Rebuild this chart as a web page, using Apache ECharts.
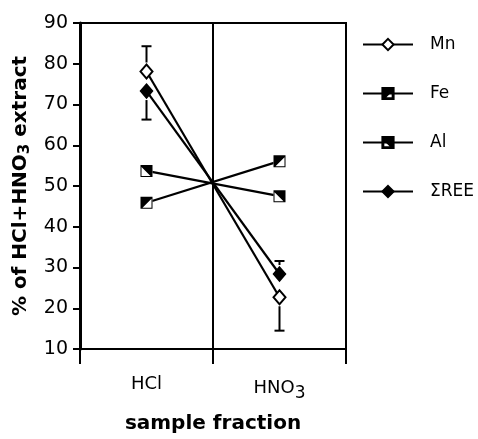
<!DOCTYPE html>
<html>
<head>
<meta charset="utf-8">
<style>
  html, body { margin: 0; padding: 0; background: #fff; }
  #chart { width: 478px; height: 439px; }
</style>
<script src="https://cdn.jsdelivr.net/npm/echarts@6/dist/echarts.min.js"></script>
</head>
<body>
<div id="chart"></div>
<script>
// data
var categories = ['HCl', 'HNO3'];
var mn = [78.1, 22.7];
var fe = [45.9, 56.1];
var al = [53.7, 47.5];
var ree = [73.3, 28.4];
// error bars: where they start (marker value) and where the cap sits
var errCats = ['HCl', 'HCl', 'HNO3', 'HNO3'];
var errBase = [78.1, 73.3, 28.4, 22.7];
var errEnd = [84.3, 66.3, 31.6, 14.5];
var yTicks = [10, 90, 10]; // min, max, interval

(function () {
    var myChart = echarts.init(document.getElementById('chart'));
    var font = 'DejaVu Sans';

    // half filled squares (frame + black triangle, the other half is a hole)
    var feSymbol = 'path://M0,0L12,0L12,12L0,12Z M11,2L2,11L11,11Z';
    var alSymbol = 'path://M0,0L12,0L12,12L0,12Z M1,2L1,11L10,11Z';

    function sub(v) {
        return v.replace(/(\d)/g, '{s|$1}').replace(/^([^{]+)/, '{n|$1}');
    }

    var errData = errCats.map(function (c, i) { return [c, errBase[i], errEnd[i]]; });

    function lineSeries(name, data, symbol, show) {
        return {
            name: name,
            type: 'line',
            data: data,
            symbol: symbol,
            showSymbol: show,
            symbolSize: symbol === 'emptyDiamond' || symbol === 'diamond' ? [12, 14] : 12,
            color: '#000',
            lineStyle: { color: '#000', width: 2.2 },
            itemStyle: { color: '#000', borderColor: '#000', borderWidth: 1.5 },
            z: 3,
            animation: false
        };
    }
    function whiteBox(data) {
        return {
            type: 'scatter', data: data, symbol: 'rect', symbolSize: 12,
            itemStyle: { color: '#fff', opacity: 1 }, z: 4, silent: true, animation: false
        };
    }
    function halfBox(data, symbol) {
        return {
            type: 'scatter', data: data, symbol: symbol, symbolSize: 12,
            itemStyle: { color: '#000', opacity: 1 }, z: 5, silent: true, animation: false
        };
    }

    var option = {
        backgroundColor: '#fff',
        textStyle: { fontFamily: font, color: '#000' },
        grid: {
            left: 80, right: 132, top: 23, bottom: 89,
            show: true, borderColor: '#000', borderWidth: 2
        },
        legend: {
            orient: 'vertical',
            left: 357,
            top: 31,
            itemWidth: 50,
            itemHeight: 14,
            itemGap: 32,
            data: ['Mn', 'Fe', 'Al', 'ΣREE'],
            lineStyle: { width: 2 },
            textStyle: { fontFamily: font, fontSize: 17, color: '#000', lineHeight: 17, padding: [0, 0, 0, 12] },
            selectedMode: false
        },
        xAxis: {
            type: 'category',
            data: categories,
            boundaryGap: true,
            axisLine: { lineStyle: { color: '#000', width: 1.5 } },
            axisTick: { show: true, length: 15, lineStyle: { color: '#000', width: 2 } },
            splitLine: { show: true, lineStyle: { color: '#000', width: 2 } },
            axisLabel: {
                margin: 26,
                formatter: sub,
                rich: {
                    n: { fontFamily: font, fontSize: 18, color: '#000' },
                    s: { fontFamily: font, fontSize: 17, color: '#000', padding: [10, 0, 0, 0] }
                }
            },
            name: 'sample fraction',
            nameLocation: 'middle',
            nameGap: 65,
            nameTextStyle: { fontFamily: font, fontSize: 20, fontWeight: 'bold', color: '#000' }
        },
        yAxis: {
            type: 'value',
            min: yTicks[0],
            max: yTicks[1],
            interval: yTicks[2],
            axisLine: { show: true, lineStyle: { color: '#000', width: 3 } },
            axisTick: { show: true, length: 7, lineStyle: { color: '#000', width: 2 } },
            splitLine: { show: false },
            axisLabel: { margin: 12, fontFamily: font, fontSize: 19, color: '#000' },
            name: '% of HCl+HNO{s|3} extract',
            nameLocation: 'middle',
            nameGap: 45,
            nameTextStyle: {
                fontFamily: font, fontSize: 20, fontWeight: 'bold', color: '#000',
                rich: {
                    s: { fontFamily: font, fontSize: 15, fontWeight: 'bold', color: '#000', padding: [10, 0, 0, 0] }
                }
            }
        },
        series: [
            {
                type: 'custom',
                data: errData,
                encode: { x: 0, y: [1, 2] },
                z: 2,
                silent: true,
                animation: false,
                renderItem: function (params, api) {
                    var a = api.coord([api.value(0), api.value(1)]);
                    var b = api.coord([api.value(0), api.value(2)]);
                    var dir = b[1] > a[1] ? 1 : -1;
                    var start = a[1] + dir * Math.min(9, Math.abs(b[1] - a[1]) - 2);
                    var st = { stroke: '#000', lineWidth: 2 };
                    return {
                        type: 'group',
                        children: [
                            { type: 'line', shape: { x1: a[0], y1: start, x2: b[0], y2: b[1] }, style: st },
                            { type: 'line', shape: { x1: b[0] - 5, y1: b[1], x2: b[0] + 5, y2: b[1] }, style: st }
                        ]
                    };
                }
            },
            lineSeries('Mn', mn, 'emptyDiamond', true),
            lineSeries('Fe', fe, feSymbol, false),
            lineSeries('Al', al, alSymbol, false),
            lineSeries('ΣREE', ree, 'diamond', true),
            whiteBox(fe), whiteBox(al),
            halfBox(fe, feSymbol), halfBox(al, alSymbol)
        ]
    };

    myChart.setOption(option);
    window.addEventListener('resize', function () {
        myChart.resize();
    });
})();
</script>
</body>
</html>
